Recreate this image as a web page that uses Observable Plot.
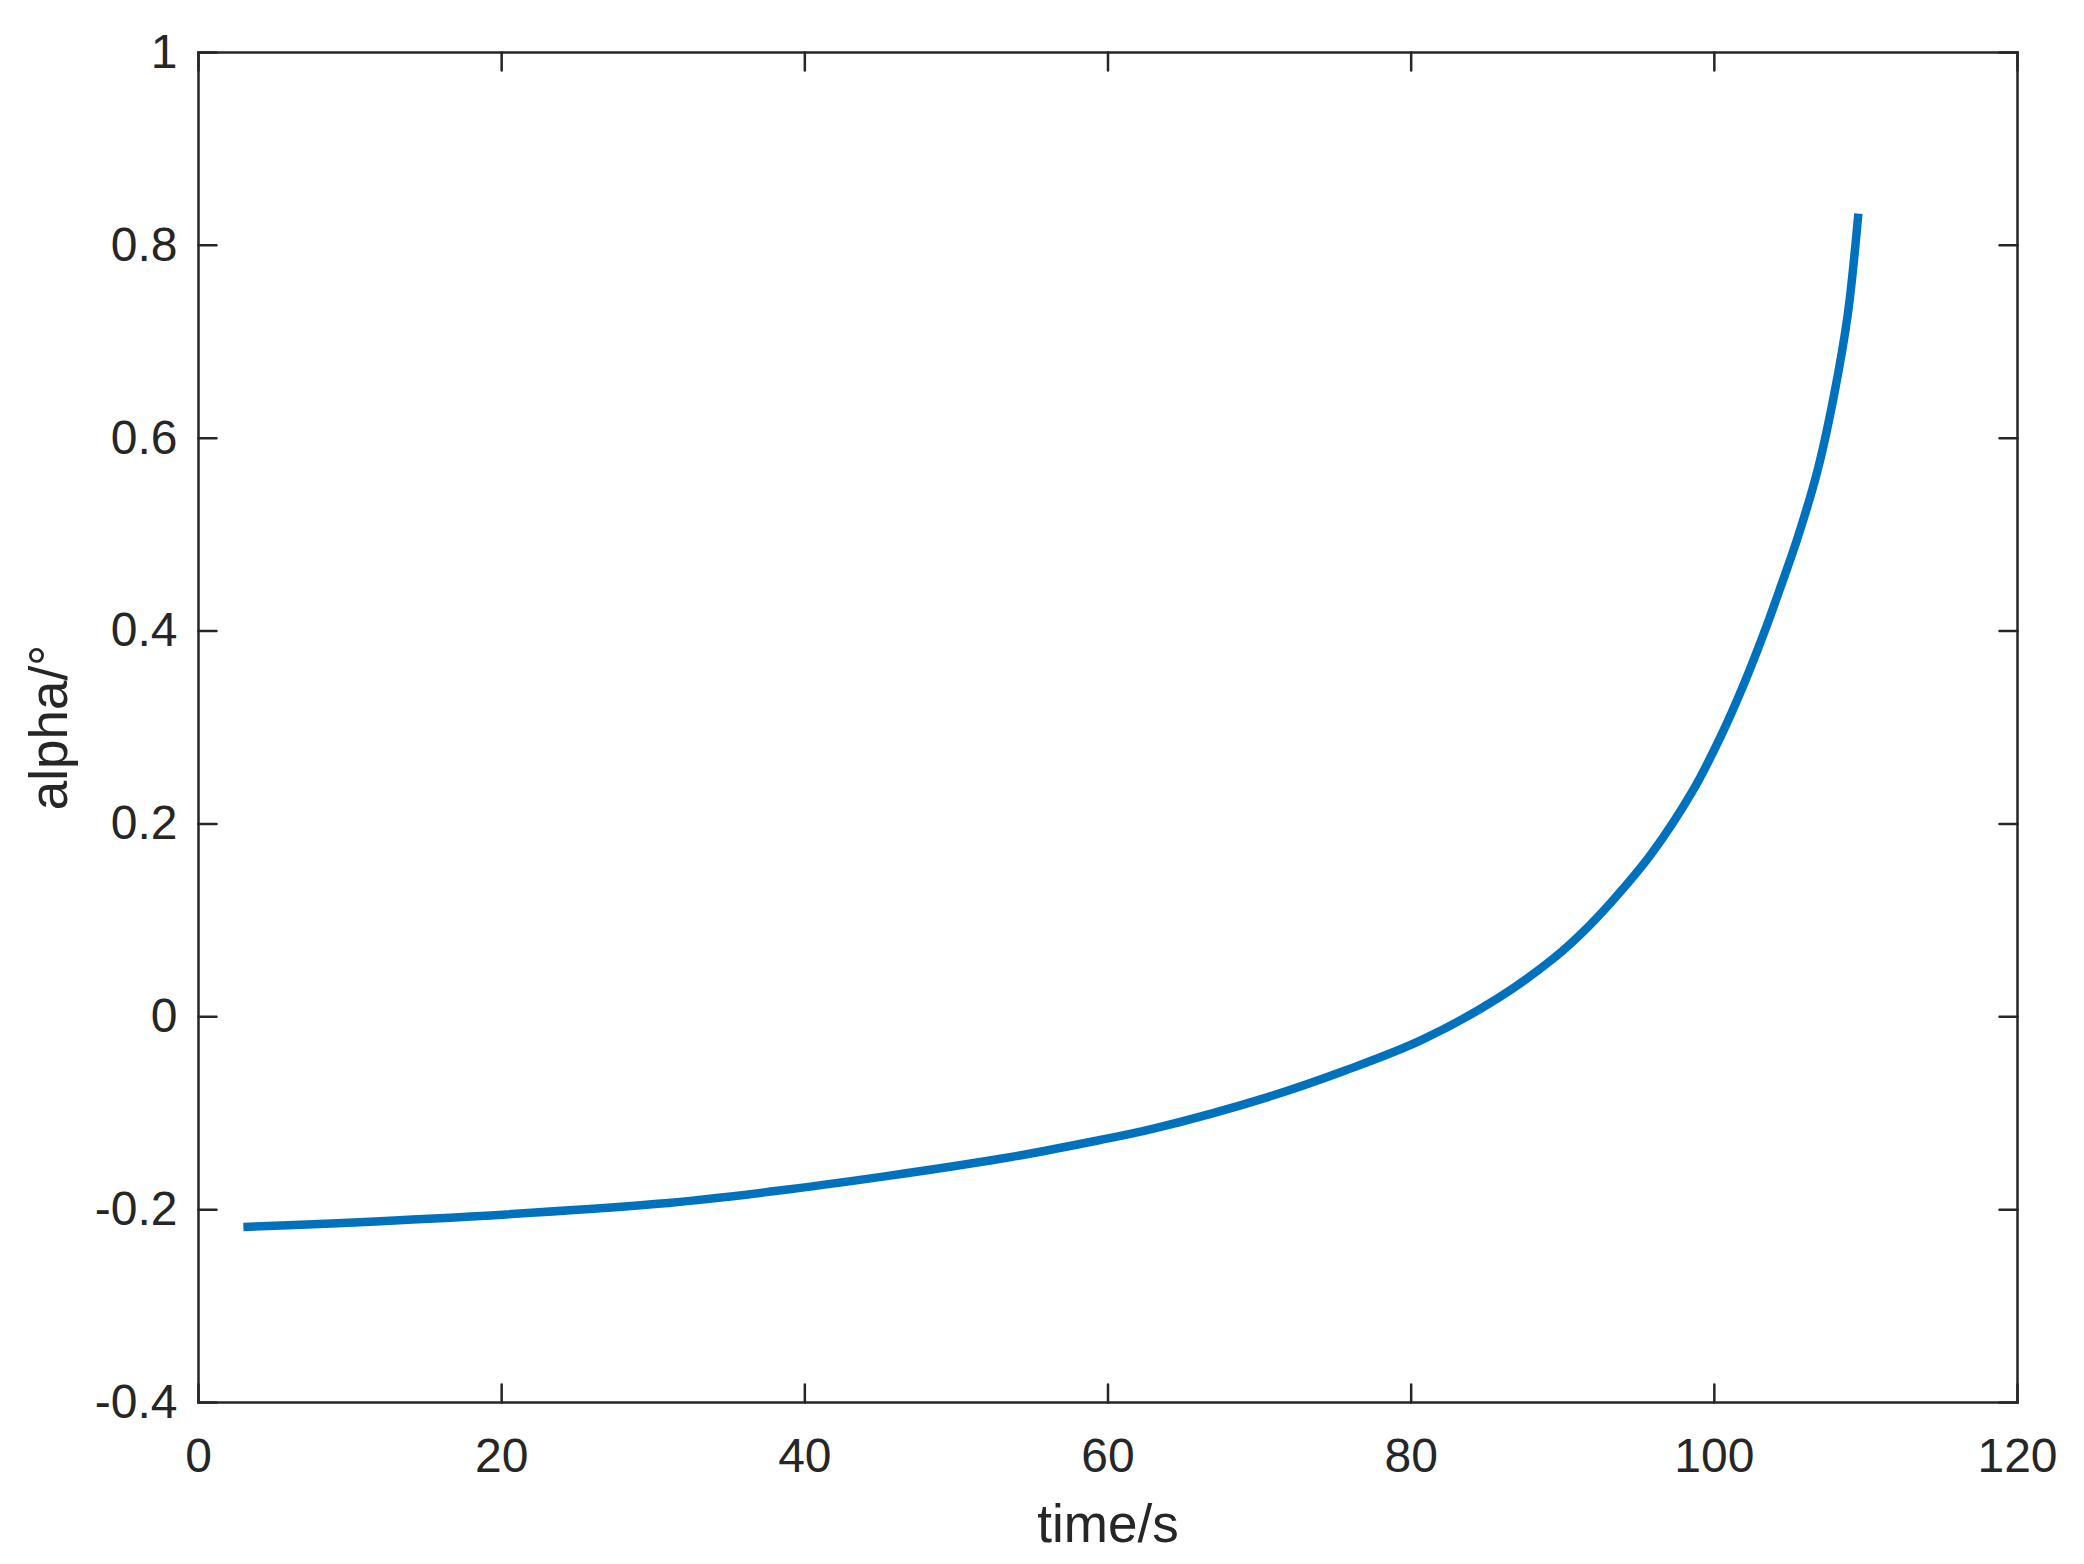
<!DOCTYPE html>
<html>
<head>
<meta charset="utf-8">
<script src="https://cdn.jsdelivr.net/npm/d3@7"></script>
<script src="https://cdn.jsdelivr.net/npm/@observablehq/plot@0.6"></script>
<style>
  html, body { margin: 0; padding: 0; background: #ffffff; }
  #chart svg { display: block; }
</style>
</head>
<body>
<div id="chart"></div>
<script>
const time = [2.96, 15.2, 30.3, 37.9, 45.5, 53.0, 59.4, 63.0, 70.6, 75.6, 80.7, 85.7, 89.5, 91.4, 93.15, 95.8, 98.6, 100.4, 101.95, 103.3, 104.4, 105.5, 106.8, 107.9, 108.8, 109.5];
const alpha = [-0.218, -0.2095, -0.194, -0.181, -0.165, -0.147, -0.128, -0.116, -0.083, -0.056, -0.024, 0.019, 0.062, 0.089, 0.118, 0.168, 0.235, 0.290, 0.345, 0.399, 0.447, 0.497, 0.566, 0.645, 0.728, 0.833];
const xTicks = [0, 20, 40, 60, 80, 100, 120];
const yTicks = [-0.4, -0.2, 0, 0.2, 0.4, 0.6, 0.8, 1];
const xLabel = "time/s";
const yLabel = "alpha/°";

const data = time.map((t, i) => ({t, a: alpha[i]}));
const ink = "#262626";
const font = "Liberation Sans, Arial, Helvetica, sans-serif";
const tickLen = 18;

const chart = Plot.plot({
  width: 2084,
  height: 1564,
  marginLeft: 198,
  marginRight: 67,
  marginTop: 52,
  marginBottom: 162,
  style: {fontFamily: font, background: "#ffffff", color: ink},
  x: {domain: [0, 120]},
  y: {domain: [-0.4, 1]},
  marks: [
    Plot.line(data, {x: "t", y: "a", stroke: "#0072BD", strokeWidth: 8.5, curve: "catmull-rom", strokeLinecap: "butt"}),
    Plot.frame({stroke: ink, strokeWidth: 2.5}),
    // inward ticks on all four sides
    Plot.vector(xTicks, {x: d => d, frameAnchor: "bottom", rotate: 0, anchor: "start", length: tickLen, r: 0, stroke: ink, strokeWidth: 2.5}),
    Plot.vector(xTicks, {x: d => d, frameAnchor: "top", rotate: 180, anchor: "start", length: tickLen, r: 0, stroke: ink, strokeWidth: 2.5}),
    Plot.vector(yTicks, {y: d => d, frameAnchor: "left", rotate: 90, anchor: "start", length: tickLen, r: 0, stroke: ink, strokeWidth: 2.5}),
    Plot.vector(yTicks, {y: d => d, frameAnchor: "right", rotate: -90, anchor: "start", length: tickLen, r: 0, stroke: ink, strokeWidth: 2.5}),
    Plot.axisX(xTicks, {anchor: "bottom", tickSize: 0, tickPadding: 35, fontSize: 48, fill: ink, label: null, tickFormat: d => String(d)}),
    Plot.axisY(yTicks, {anchor: "left", tickSize: 0, tickPadding: 21, fontSize: 48, fill: ink, label: null, tickFormat: d => String(d)}),
    Plot.text([xLabel], {text: d => d, frameAnchor: "bottom", dy: 123, fontSize: 53, fill: ink, textAnchor: "middle", lineAnchor: "middle"}),
    Plot.text([yLabel], {text: d => d, frameAnchor: "left", dx: -148, rotate: -90, fontSize: 53, fill: ink, textAnchor: "middle", lineAnchor: "middle"})
  ]
});
document.getElementById("chart").appendChild(chart);
</script>
</body>
</html>
